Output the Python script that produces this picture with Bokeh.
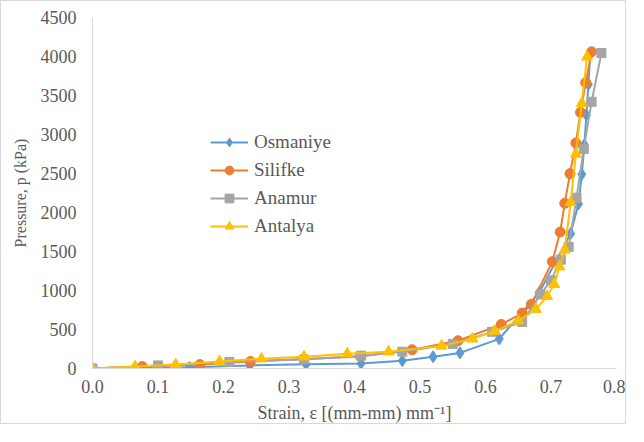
from bokeh.plotting import figure
from bokeh.models import FixedTicker, PrintfTickFormatter, Range1d, Legend, LegendItem
from bokeh.embed import file_html
from bokeh.resources import INLINE

# Data
osm_x = [0.0, 0.065, 0.148, 0.24, 0.326, 0.41, 0.473, 0.52, 0.561, 0.621, 0.682, 0.730, 0.742, 0.747, 0.751, 0.754, 0.757, 0.760]
osm_y = [0, 5, 15, 40, 55, 65, 100, 150, 200, 380, 975, 1730, 2110, 2490, 2870, 3250, 3640, 4030]

sil_x = [0.0, 0.076, 0.164, 0.241, 0.409, 0.488, 0.558, 0.624, 0.656, 0.670, 0.702, 0.714, 0.721, 0.729, 0.738, 0.745, 0.753, 0.762]
sil_y = [0, 25, 50, 90, 155, 240, 355, 565, 710, 824, 1370, 1750, 2118, 2498, 2891, 3284, 3665, 4060]

ana_x = [0.0, 0.10, 0.209, 0.323, 0.41, 0.473, 0.55, 0.61, 0.656, 0.684, 0.70, 0.715, 0.727, 0.739, 0.75, 0.762, 0.777]
ana_y = [0, 40, 85, 115, 165, 215, 315, 470, 596, 950, 1130, 1395, 1560, 2190, 2815, 3420, 4045]

ant_x = [0.0, 0.065, 0.127, 0.194, 0.258, 0.323, 0.389, 0.452, 0.533, 0.58, 0.614, 0.65, 0.677, 0.694, 0.705, 0.713, 0.721, 0.730, 0.738, 0.747, 0.755]
ant_y = [0, 25, 50, 90, 125, 150, 190, 215, 290, 380, 480, 610, 760, 925, 1080, 1305, 1520, 2130, 2750, 3400, 3995]

x_ticks = [0.0, 0.1, 0.2, 0.3, 0.4, 0.5, 0.6, 0.7, 0.8]
y_ticks = [0, 500, 1000, 1500, 2000, 2500, 3000, 3500, 4000, 4500]

series = [
    ("Osmaniye", osm_x, osm_y, "#5B9BD5", "diamond", 12),
    ("Silifke", sil_x, sil_y, "#ED7D31", "circle", 10),
    ("Anamur", ana_x, ana_y, "#A5A5A5", "square", 9),
    ("Antalya", ant_x, ant_y, "#FFC000", "triangle", 11),
]

FONT = "Liberation Serif"
TXT = "#595959"

p = figure(width=626, height=424, output_backend="svg", toolbar_location=None,
           x_range=Range1d(0, 0.8), y_range=Range1d(0, 4500),
           min_border_left=91, min_border_right=11, min_border_top=16, min_border_bottom=53)
p.styles = {"border": "1px solid #d9d9d9"}
p.outline_line_color = None
p.xgrid.visible = False
p.ygrid.visible = False

items = []
for name, xs, ys, col, mk, sz in series:
    r1 = p.line(xs, ys, line_color=col, line_width=2)
    r2 = p.scatter(xs, ys, marker=mk, size=sz, fill_color=col, line_color=col)
    items.append(LegendItem(label=name, renderers=[r1, r2]))

for ax in (p.xaxis[0], p.yaxis[0]):
    ax.axis_line_color = "#d9d9d9"
    ax.axis_line_width = 1
    ax.major_tick_line_color = None
    ax.minor_tick_line_color = None
    ax.major_tick_out = 0
    ax.major_tick_in = 0
    ax.major_label_text_font = FONT
    ax.major_label_text_font_size = "18px"
    ax.major_label_text_color = TXT
    ax.axis_label_text_font = FONT
    ax.axis_label_text_font_style = "normal"
    ax.axis_label_text_color = TXT

p.xaxis.ticker = FixedTicker(ticks=x_ticks)
p.xaxis.formatter = PrintfTickFormatter(format="%.1f")
p.yaxis.ticker = FixedTicker(ticks=y_ticks)
p.yaxis.formatter = PrintfTickFormatter(format="%d")
p.xaxis.major_label_standoff = 11
p.yaxis.major_label_standoff = 16
p.xaxis.axis_label = "Strain, ε [(mm-mm) mm⁻¹]"
p.yaxis.axis_label = "Pressure, p (kPa)"
p.xaxis.axis_label_text_font_size = "18px"
p.yaxis.axis_label_text_font_size = "16px"
p.xaxis.axis_label_standoff = 7
p.yaxis.axis_label_standoff = 9

legend = Legend(items=items, location=(118, 131), orientation="vertical",
                background_fill_alpha=0, border_line_color=None,
                label_text_font=FONT, label_text_font_size="19px", label_text_color=TXT,
                glyph_width=38, glyph_height=22, label_height=22, spacing=6,
                padding=0, margin=0, label_standoff=6)
p.add_layout(legend, "center")

open("out.html", "w").write(file_html(p, INLINE))
